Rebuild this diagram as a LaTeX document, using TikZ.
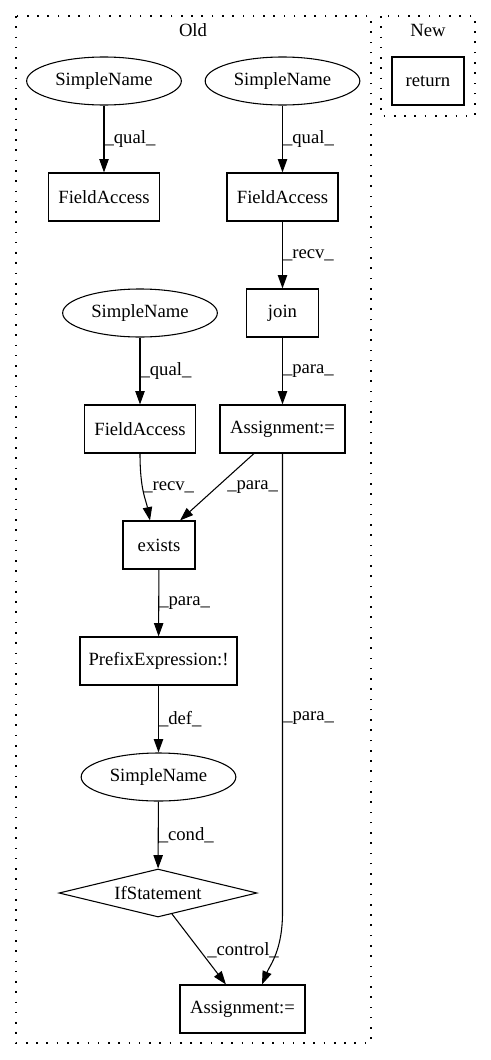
\documentclass[tikz,border=0pt]{standalone}
\usepackage{fontspec}
\setmainfont{Liberation Serif}
\usetikzlibrary{shapes.geometric,arrows.meta,calc}
\begin{document}
\begin{tikzpicture}[x=0.75pt,y=-0.75pt,
  every node/.style={font=\fontsize{14pt}{16pt}\selectfont},
  box/.style={draw,line width=0.8pt,rectangle,inner sep=0pt,minimum height=36pt},
  ell/.style={draw,line width=0.8pt,ellipse,inner sep=0pt,minimum width=116pt,minimum height=36pt},
  dia/.style={draw,line width=0.8pt,diamond,aspect=4,inner sep=0pt,minimum width=148.5pt,minimum height=36pt},
  edge/.style={draw,line width=0.8pt,-{Triangle[length=10pt,width=7pt]}},
  lbl/.style={anchor=west,inner sep=0pt,midway},
  freelbl/.style={anchor=west,inner sep=0pt},
  cluster/.style={draw,line width=0.9pt,dash pattern=on 1.2pt off 6.5pt}
]
\useasboundingbox (0,0) rectangle (491,1060);
% clusters
\draw[cluster] (16,16) rectangle (371,1043);
\draw[cluster] (381,16) rectangle (475,116);
\node (oldlbl) at (193,30) {Old};
\node (newlbl) at (428,30) {New};
% nodes
\node[box,minimum width=54pt] (ret) at (428,81) {return};
\node[ell] (sn1) at (104,81) {SimpleName};
\node[ell] (sn2) at (282.5,81) {SimpleName};
\node[box,minimum width=83.25pt] (fa1) at (104,197) {FieldAccess};
\node[box,minimum width=83.25pt] (fa2) at (282.5,197) {FieldAccess};
\node[box,minimum width=54pt] (join) at (282.5,313) {join};
\node[ell] (sn3) at (140,313) {SimpleName};
\node[box,minimum width=83.25pt] (fa3) at (140,429) {FieldAccess};
\node[box,minimum width=93.75pt] (as1) at (282.5,429) {Assignment:=};
\node[box,minimum width=54pt] (ex) at (159,545) {exists};
\node[box,minimum width=117.75pt] (pre) at (158.5,661) {PrefixExpression:!};
\node[ell] (sn4) at (158.5,777) {SimpleName};
\node[dia] (ifs) at (158,893) {IfStatement};
\node[box,minimum width=93.75pt] (as2) at (242.5,1009) {Assignment:=};
% edges
\draw[edge] (sn1) -- node[lbl]{\_qual\_} (fa1);
\draw[edge] (sn2) -- node[lbl]{\_qual\_} (fa2);
\draw[edge] (fa2) -- node[lbl]{\_recv\_} (join);
\draw[edge] (sn3) -- node[lbl]{\_qual\_} (fa3);
\draw[edge] (join) -- node[lbl]{\_para\_} (as1);
\draw[edge] (fa3.south) .. controls (140,490) and (146,500) .. ([xshift=-6.75pt]ex.north);
\node[freelbl] (l1) at (143,487) {\_recv\_};
\draw[edge] ([xshift=-21.4pt]as1.south) -- ([xshift=15.75pt]ex.north);
\node[freelbl] (l2) at (227,487) {\_para\_};
\draw[edge] (ex) -- node[lbl]{\_para\_} (pre);
\draw[edge] (pre) -- node[lbl]{\_def\_} (sn4);
\draw[edge] (sn4) -- node[lbl]{\_cond\_} (ifs);
\draw[edge] (172,914) -- ([xshift=-12.4pt]as2.north);
\node[freelbl] (l3) at (207,950) {\_control\_};
\draw[edge] (as1.south) -- (282.5,910) .. controls (283,950) and (270,965) .. ([xshift=14.6pt]as2.north);
\node[freelbl] (l4) at (283,718) {\_para\_};
\end{tikzpicture}
\end{document}
